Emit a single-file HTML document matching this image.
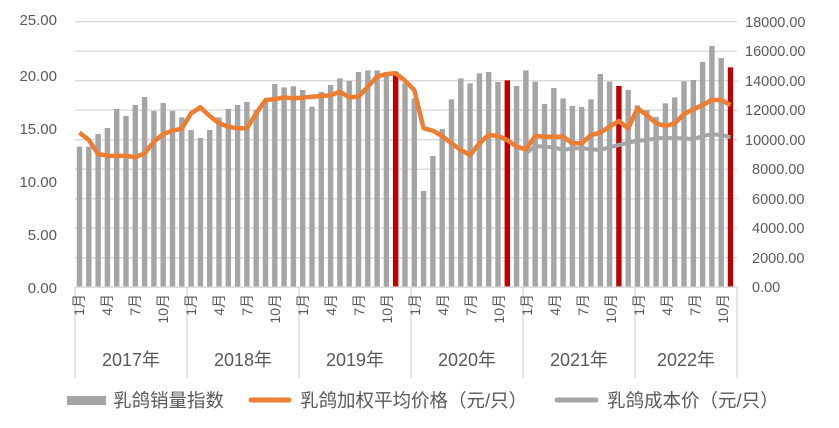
<!DOCTYPE html>
<html><head><meta charset="utf-8"><style>
body{margin:0;background:#fff;width:839px;height:428px;overflow:hidden}
svg{display:block}
text{font-family:"Liberation Sans","Noto Sans CJK SC",sans-serif;fill:#595959}
</style></head><body>
<svg id="s" width="839" height="428" xmlns="http://www.w3.org/2000/svg">
<g id="grid" stroke="#d9d9d9" stroke-width="1.3"></g>
<g id="bars"></g>
<g id="lines"></g>
<g font-size="15" text-anchor="end">
<text x="57" y="25">25.00</text><text x="57" y="81">20.00</text><text x="57" y="134">15.00</text>
<text x="57" y="187">10.00</text><text x="57" y="240">5.00</text><text x="57" y="293">0.00</text>
</g>
<g font-size="14.5" text-anchor="start">
<text x="745" y="27">18000.00</text><text x="745" y="56">16000.00</text><text x="745" y="86">14000.00</text>
<text x="745" y="115">12000.00</text><text x="745" y="145">10000.00</text><text x="752" y="174">8000.00</text>
<text x="752" y="204">6000.00</text><text x="752" y="233">4000.00</text><text x="752" y="263">2000.00</text>
<text x="752" y="292">0.00</text>
</g>
<g id="sep" stroke="#d9d9d9" stroke-width="1.3"></g>
<g font-size="14" text-anchor="end">
<text transform="translate(84,294) rotate(-90)">1月</text><text transform="translate(112,294) rotate(-90)">4月</text><text transform="translate(140,294) rotate(-90)">7月</text><text transform="translate(168,294) rotate(-90)">10月</text>
<text transform="translate(196,294) rotate(-90)">1月</text><text transform="translate(224,294) rotate(-90)">4月</text><text transform="translate(252,294) rotate(-90)">7月</text><text transform="translate(280,294) rotate(-90)">10月</text>
<text transform="translate(308,294) rotate(-90)">1月</text><text transform="translate(336,294) rotate(-90)">4月</text><text transform="translate(364,294) rotate(-90)">7月</text><text transform="translate(392,294) rotate(-90)">10月</text>
<text transform="translate(420,294) rotate(-90)">1月</text><text transform="translate(448,294) rotate(-90)">4月</text><text transform="translate(476,294) rotate(-90)">7月</text><text transform="translate(504,294) rotate(-90)">10月</text>
<text transform="translate(532,294) rotate(-90)">1月</text><text transform="translate(560,294) rotate(-90)">4月</text><text transform="translate(588,294) rotate(-90)">7月</text><text transform="translate(616,294) rotate(-90)">10月</text>
<text transform="translate(644,294) rotate(-90)">1月</text><text transform="translate(672,294) rotate(-90)">4月</text><text transform="translate(700,294) rotate(-90)">7月</text><text transform="translate(728,294) rotate(-90)">10月</text>
</g>
<g font-size="18" text-anchor="middle">
<text x="131" y="366">2017年</text><text x="243" y="366">2018年</text><text x="355" y="366">2019年</text>
<text x="467" y="366">2020年</text><text x="579" y="366">2021年</text><text x="686" y="366">2022年</text>
</g>
<rect x="67" y="396" width="39" height="9" fill="#a5a5a5"/>
<text x="113" y="407" font-size="18.5">乳鸽销量指数</text>
<line x1="251" y1="400" x2="289" y2="400" stroke="#ed7d31" stroke-width="5" stroke-linecap="round"/>
<text x="300" y="407" font-size="18.5">乳鸽加权平均价格（元/只）</text>
<line x1="557" y1="400" x2="596" y2="400" stroke="#a5a5a5" stroke-width="5" stroke-linecap="round"/>
<text x="607" y="407" font-size="18.5">乳鸽成本价（元/只）</text>
</svg>
<script>
var NS="http://www.w3.org/2000/svg";
function el(p,t,a){var e=document.createElementNS(NS,t);for(var k in a)e.setAttribute(k,a[k]);document.getElementById(p).appendChild(e);return e;}
for(var i=0;i<10;i++){var y=21.7+i*29.5;el("grid","line",{x1:75,x2:737,y1:y,y2:y});}
[75,187,299,411,523,635,737].forEach(function(x){el("sep","line",{x1:x,x2:x,y1:287,y2:378});});
el("sep","line",{x1:75,x2:737,y1:287,y2:287});
var z1=[410,410,372,354,297,318,285,261,303,279,303,322, 360,384,360,322,297,285,276,300,270,222,232,229, 240,290,246,225,205,213,186,181,181,186,186,220];
var z2=[265,543,438,357,268,205,220,190,186,216,211,228, 181,215,282,234,265,288,291,268,192,215,228,240, 286,300,321,280,262,214,210,156,108,144,172];
var tops=z1.concat(z2).map(function(z){return 10+z/3;});
function cx(i){return 79.5+i*9.3;}
tops.forEach(function(t,i){var red=(i>=24&&i%12==10);el("bars","rect",{x:cx(i)-2.7,y:t,width:5.4,height:287-t,fill:red?"#c00000":"#a5a5a5"});});
var o1=[368,390,432,437,438,437,442,430,395,372,362,356, 310,292,318,340,350,355,355,310,270,268,262,265, 263,260,258,256,245,262,260,230,200,192,190,212];
var o2=[240,355,362,378,400,420,435,400,375,378,390,410, 418,378,380,380,380,400,400,375,368,350,333,355, 295,315,340,348,340,312,298,285,270,270,285];
var o=o1.concat(o2).map(function(z,i){return cx(i).toFixed(1)+","+(10+z/3).toFixed(1);}).join(" ");
var g=[430,408,410,412,420,415,415,418,420,412,405,398,392,390,385,384,385,385,388,378,373,375,382];
var gp=g.map(function(z,k){return cx(48+k).toFixed(1)+","+(10+z/3).toFixed(1);}).join(" ");
el("lines","polyline",{points:gp,fill:"none",stroke:"#a5a5a5","stroke-width":4,"stroke-linejoin":"round"});
el("lines","polyline",{points:o,fill:"none",stroke:"#ed7d31","stroke-width":4.5,"stroke-linejoin":"round"});
</script>
</body></html>
